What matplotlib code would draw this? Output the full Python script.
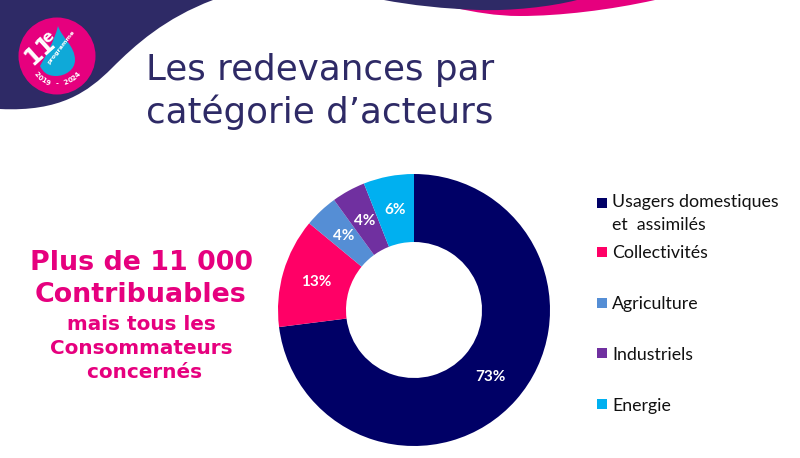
import numpy as np
import matplotlib
matplotlib.use("Agg")
import matplotlib.pyplot as plt
from matplotlib.path import Path
from matplotlib.patches import PathPatch, Circle, Rectangle

categories = ["Usagers domestiques\net  assimilés", "Collectivités", "Agriculture", "Industriels", "Energie"]
values = [73, 13, 4, 4, 6]
pct_labels = ["73%", "13%", "4%", "4%", "6%"]
colors = ["#000066", "#FF0066", "#558ED5", "#7030A0", "#00B0F0"]
legend_text_y = [213.5, 252.5, 303.5, 354.5, 405.5]
legend_square_y = [203, 252, 303, 353, 404]

NAVY = "#2E2A66"
PINK = "#E6007E"
W, H = 800, 458
fig = plt.figure(figsize=(W / 100, H / 100), dpi=100, facecolor="white")
bg = fig.add_axes([0, 0, 1, 1])
bg.set_xlim(0, W)
bg.set_ylim(H, 0)
bg.axis("off")

def blob(verts, codes, color, z):
    bg.add_patch(PathPatch(Path(verts, codes), facecolor=color, edgecolor="none", zorder=z))

M, L, C, Z = Path.MOVETO, Path.LINETO, Path.CURVE4, Path.CLOSEPOLY
blob([(0, 0), (213, 0), (165, 18), (135, 45), (112, 68), (88, 92), (60, 112), (0, 109), (0, 0)],
     [M, L, C, C, C, C, C, C, Z], NAVY, 1)
blob([(455, 0), (655, 0), (610, 10), (560, 16), (520, 16), (495, 16), (475, 12), (455, 8), (455, 0)],
     [M, L, C, C, C, C, C, C, Z], PINK, 1)
blob([(384, 0), (577, 0), (550, 7), (510, 11), (480, 10), (445, 9), (410, 5), (384, 0), (384, 0)],
     [M, L, C, C, C, C, C, C, Z], NAVY, 2)

# logo
bg.add_patch(Circle((57, 56), 38.5, facecolor=PINK, edgecolor="none", zorder=3))
blob([(58, 26), (62, 38), (75, 46), (75, 60), (75, 70), (65, 76), (56, 76),
      (47, 76), (43, 72), (40, 66), (46, 55), (54, 42), (58, 26), (58, 26)],
     [M, C, C, C, C, C, C, C, C, C, C, C, C, Z], "#0FA9D8", 4)
bg.text(40, 50, "11", color="white", fontsize=17, fontweight="bold", rotation=42,
        ha="center", va="center", family="DejaVu Sans", zorder=5)
bg.text(48, 37, "e", color="white", fontsize=11, fontweight="bold", rotation=42,
        ha="center", va="center", family="DejaVu Sans", zorder=5)
bg.text(61, 47, "programme", color="white", fontsize=4.6, fontweight="bold", rotation=52,
        ha="center", va="center", family="DejaVu Sans", zorder=5)
arc_text = "2019 - 2024"
for ch, ang in zip(arc_text, np.linspace(138, 42, len(arc_text))):
    a = np.radians(ang)
    bg.text(57 + 28 * np.cos(a), 56 + 28 * np.sin(a), ch, color="white", fontsize=5,
            fontweight="bold", rotation=90 - ang, ha="center", va="center",
            family="DejaVu Sans", zorder=5)

# title
bg.text(146, 70, "Les redevances par", color=NAVY, fontsize=25.7, ha="left", va="center",
        family="DejaVu Sans")
bg.text(146, 112, "catégorie d’acteurs", color=NAVY, fontsize=25.7, ha="left", va="center",
        family="DejaVu Sans")

# left text
left = [("Plus de 11 000", 263, 19.4), ("Contribuables", 295, 19.4),
        ("mais tous les", 325, 14.4), ("Consommateurs", 348, 14.4), (" concernés", 373, 14.4)]
for t, y, fs in left:
    bg.text(141, y, t, color=PINK, fontsize=fs, fontweight="bold", ha="center", va="center",
            family="DejaVu Sans")

# donut
cx, cy, r = 414, 310, 136
ax = fig.add_axes([(cx - r) / W, 1 - (cy + r) / H, 2 * r / W, 2 * r / H])
wedges, _ = ax.pie(values, colors=colors, startangle=90, counterclock=False, radius=1,
                   wedgeprops=dict(width=0.5, edgecolor="none"))
ax.set_xlim(-1, 1)
ax.set_ylim(-1, 1)
ax.axis("off")
ax.patch.set_alpha(0)
for w, lab in zip(wedges, pct_labels):
    a = np.radians((w.theta1 + w.theta2) / 2)
    ax.text(0.75 * np.cos(a), 0.75 * np.sin(a), lab, color="white", fontsize=11,
            fontweight="bold", ha="center", va="center", family="Lato")

# legend
for cat, col, ty, sy in zip(categories, colors, legend_text_y, legend_square_y):
    bg.add_patch(Rectangle((597, sy - 5), 10, 10, facecolor=col, edgecolor="none"))
    bg.text(612, ty, cat, color="#111111", fontsize=12.8, ha="left", va="center",
            family="Lato", linespacing=1.55)

fig.savefig("out.png", dpi=100)
